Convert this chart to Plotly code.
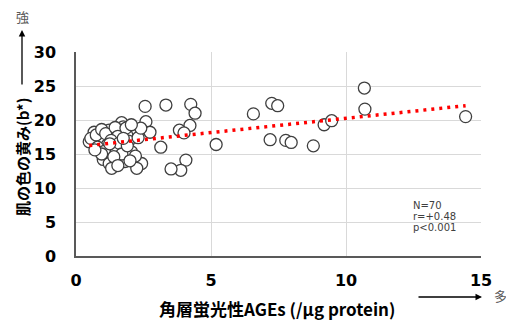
import plotly.graph_objects as go
import numpy as np

# Data
ages = [
    2.56, 3.33, 2.59, 2.74, 3.14, 2.43, 4.25, 4.41, 4.22, 3.83,
    4.00, 4.07, 3.88, 3.52, 5.19, 6.57, 7.25, 7.47, 7.19, 7.77,
    7.97, 8.79, 9.19, 9.47, 10.68, 10.70, 14.43,
    0.49, 0.67, 1.23, 1.69, 1.75, 1.63, 2.19, 1.88, 1.01, 0.89,
    1.38, 2.06, 1.01, 1.23, 1.32, 1.81, 2.25,
    0.55, 0.75, 0.95, 1.10, 1.45, 1.55, 1.30, 1.15, 0.80, 1.60,
    1.95, 2.30, 2.40, 1.85, 2.05, 1.05, 1.70, 1.40, 0.95, 2.20,
    1.90, 1.25, 0.70, 1.55, 2.00, 1.75,
]
b_star = [
    22.0, 22.2, 19.75, 18.2, 16.0, 13.6, 22.3, 21.0, 19.2, 18.5,
    18.1, 14.1, 12.6, 12.8, 16.4, 20.9, 22.45, 22.1, 17.1, 17.0,
    16.7, 16.2, 19.3, 19.9, 24.7, 21.6, 20.5,
    16.8, 18.2, 18.5, 19.6, 19.0, 18.5, 18.3, 17.8, 17.5, 16.8,
    15.6, 15.3, 14.2, 13.6, 12.9, 13.9, 12.9,
    17.3, 17.8, 18.6, 18.0, 18.9, 17.6, 17.0, 16.3, 16.0, 16.6,
    16.9, 17.4, 18.8, 18.8, 19.3, 15.4, 15.0, 14.6, 15.0, 14.7,
    16.2, 16.5, 15.6, 13.3, 14.0, 17.3,
]
trend_slope = 0.42
trend_intercept = 16.05
x_ticks = [0, 5, 10, 15]
y_ticks = [0, 5, 10, 15, 20, 25, 30]
stats_lines = ["N=70", "r=+0.48", "p<0.001"]

x_title = "角層蛍光性AGEs (/µg protein)"
y_title = "肌の色の黄み(b*)"

FONT = "DejaVu Sans, Noto Sans CJK JP, sans-serif"
JFONT = "Noto Sans CJK JP, DejaVu Sans, sans-serif"

tx = np.array([min(ages), max(ages)])
ty = trend_intercept + trend_slope * tx

fig = go.Figure()
fig.add_trace(go.Scatter(
    x=ages, y=b_star, mode="markers",
    marker=dict(size=12, color="white", line=dict(color="#3f3f3f", width=1.3)),
    hoverinfo="skip",
))
fig.add_trace(go.Scatter(
    x=tx, y=ty, mode="lines",
    line=dict(color="#ff0000", width=3.5, dash="3px,5px"),
    hoverinfo="skip",
))

L, R, T, B = 76, 25, 52, 64
W, H = 506, 320
pw, ph = W - L - R, H - T - B

def px(xp):
    return (xp - L) / pw

def py(yp):
    return (H - B - yp) / ph

annotations = [
    dict(x=px(22), y=py(157), xref="paper", yref="paper", text=y_title,
         textangle=-90, showarrow=False, xanchor="center", yanchor="middle",
         font=dict(family=JFONT, size=15, color="#000000", weight="bold")),
    dict(x=px(22), y=py(30), xref="paper", yref="paper", text="",
         showarrow=True, ax=0, ay=56, arrowhead=2, arrowsize=1,
         arrowwidth=1.3, arrowcolor="#000000"),
    dict(x=px(22), y=py(17), xref="paper", yref="paper", text="強",
         showarrow=False, xanchor="center", yanchor="middle",
         font=dict(family=JFONT, size=13, color="#595959")),
    dict(x=px(277), y=py(308), xref="paper", yref="paper", text=x_title,
         showarrow=False, xanchor="center", yanchor="middle",
         font=dict(family=JFONT, size=17, color="#000000", weight="bold")),
    dict(x=px(482), y=py(297), xref="paper", yref="paper", text="",
         showarrow=True, ax=-65, ay=0, arrowhead=2, arrowsize=1,
         arrowwidth=1.3, arrowcolor="#000000"),
    dict(x=px(492), y=py(295), xref="paper", yref="paper", text="多",
         xanchor="left", yanchor="middle", showarrow=False,
         font=dict(family=JFONT, size=13, color="#595959")),
]
for i, s in enumerate(stats_lines):
    annotations.append(dict(
        x=px(411), y=py(205 + 11 * i), xref="paper", yref="paper", text=s,
        xanchor="left", yanchor="middle", showarrow=False,
        font=dict(family=FONT, size=10, color="#404040")))

fig.update_layout(
    width=W, height=H,
    margin=dict(l=L, r=R, t=T, b=B, pad=0),
    paper_bgcolor="white", plot_bgcolor="white",
    showlegend=False,
    annotations=annotations,
    shapes=[dict(type="rect", xref="paper", yref="paper",
                 x0=px(408), x1=px(475), y0=py(234), y1=py(196),
                 fillcolor="white", line=dict(width=0), layer="between")],
    xaxis=dict(range=[0, 15], tickvals=x_ticks, ticks="",
               showgrid=True, gridcolor="#d9d9d9", gridwidth=1.3,
               showline=True, linecolor="#595959", linewidth=1.5,
               zeroline=False, ticklabelstandoff=9,
               tickfont=dict(family=FONT, size=16, color="#000000", weight="bold")),
    yaxis=dict(range=[0, 30], tickvals=y_ticks, ticks="",
               showgrid=True, gridcolor="#d9d9d9", gridwidth=1.3,
               showline=True, linecolor="#595959", linewidth=1.5,
               zeroline=False, ticklabelstandoff=15,
               tickfont=dict(family=FONT, size=16, color="#000000", weight="bold")),
)

fig.write_html("out.html")
